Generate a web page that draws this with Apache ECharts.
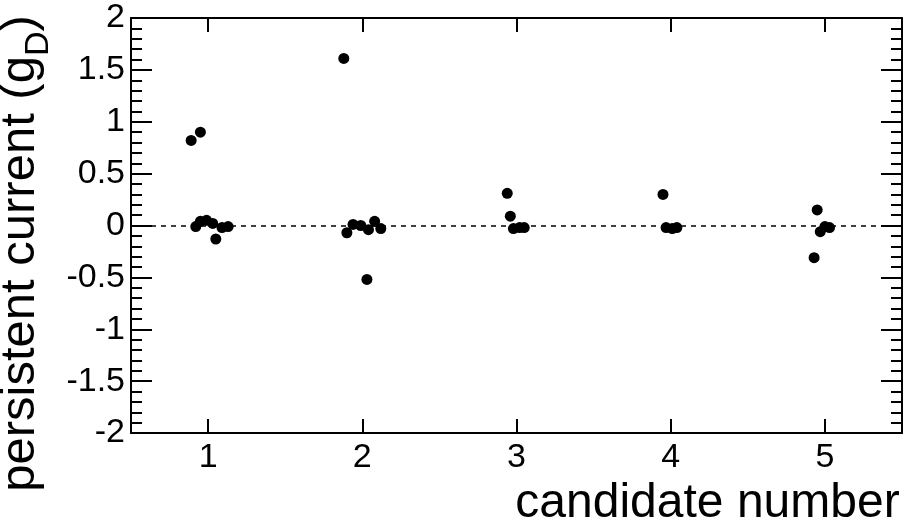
<!DOCTYPE html>
<html>
<head>
<meta charset="utf-8">
<script src="https://cdn.jsdelivr.net/npm/echarts@6/dist/echarts.min.js"></script>
<style>
html,body{margin:0;padding:0;background:#fff;}
#chart{width:909px;height:525px;}
</style>
</head>
<body>
<div id="chart"></div>
<script>
// Data
const candidateX = [
  0.89, 0.95, 0.92, 0.95, 0.99, 1.03, 1.05, 1.09, 1.13,
  1.88, 1.90, 1.94, 1.99, 2.03, 2.04, 2.08, 2.12,
  2.94, 2.96, 2.98, 3.02, 3.05,
  3.95, 3.97, 4.01, 4.04,
  4.93, 4.95, 4.97, 5.00, 5.03
];
const persistentCurrent = [
  0.82, 0.90, -0.01, 0.04, 0.05, 0.02, -0.13, -0.02, -0.01,
  1.61, -0.07, 0.01, 0.00, -0.52, -0.04, 0.04, -0.03,
  0.31, 0.09, -0.03, -0.02, -0.02,
  0.30, -0.02, -0.03, -0.02,
  -0.31, 0.15, -0.06, -0.01, -0.02
];
const xRange = [0.5, 5.5];
const yRange = [-2, 2];
const yStep = 0.5;
const xTitle = 'candidate number';
const yTitleMain = 'persistent current (g';
const yTitleSub = 'D';

const points = candidateX.map((x, i) => [x, persistentCurrent[i]]);

const FONT = 'Liberation Sans';
const chart = echarts.init(document.getElementById('chart'), null, {renderer: 'canvas'});

const axisLineStyle = {color: '#000', width: 2};

chart.setOption({
  animation: false,
  backgroundColor: '#fff',
  grid: {left: 131, right: 7, top: 18, bottom: 92, containLabel: false, outerBoundsMode: 'none'},
  xAxis: [{
    type: 'value', min: xRange[0], max: xRange[1], splitNumber: 5,
    position: 'bottom',
    axisLine: {show: true, onZero: false, lineStyle: axisLineStyle},
    axisTick: {show: true, inside: true, length: 14, lineStyle: {color: '#000', width: 2}},
    splitLine: {show: false},
    axisLabel: {
      color: '#000', fontFamily: FONT, fontSize: 34, margin: 8,
      showMinLabel: false, showMaxLabel: false,
      formatter: v => (Math.abs(v - Math.round(v)) < 1e-9 ? String(Math.round(v)) : '')
    },
    name: xTitle, nameLocation: 'middle', nameGap: 38,
    nameTextStyle: {color: '#000', fontFamily: FONT, fontSize: 48, verticalAlign: 'top', padding: [0, 0, 0, 382]}
  }, {
    type: 'value', min: xRange[0], max: xRange[1], splitNumber: 5,
    position: 'top',
    axisLine: {show: true, onZero: false, lineStyle: axisLineStyle},
    axisTick: {show: true, inside: true, length: 14, lineStyle: {color: '#000', width: 2}},
    splitLine: {show: false},
    axisLabel: {show: false}
  }],
  yAxis: [{
    type: 'value', min: yRange[0], max: yRange[1], interval: yStep,
    position: 'left',
    axisLine: {show: true, onZero: false, lineStyle: axisLineStyle},
    axisTick: {show: true, inside: true, length: 21, lineStyle: {color: '#000', width: 2}},
    minorTick: {show: true, splitNumber: 5, length: 11, lineStyle: {color: '#000', width: 2}},
    splitLine: {show: false},
    axisLabel: {color: '#000', fontFamily: FONT, fontSize: 34, margin: 6},
    name: yTitleMain + '{sub|' + yTitleSub + '})',
    nameLocation: 'middle', nameRotate: 90, nameGap: 50,
    nameTextStyle: {
      color: '#000', fontFamily: FONT, fontSize: 49, padding: [0, 56, 0, 0],
      rich: {sub: {fontFamily: FONT, fontSize: 34, color: '#000', padding: [36, 0, 0, 0]}}
    }
  }, {
    type: 'value', min: yRange[0], max: yRange[1], interval: yStep,
    position: 'right',
    axisLine: {show: true, onZero: false, lineStyle: axisLineStyle},
    axisTick: {show: true, inside: true, length: 21, lineStyle: {color: '#000', width: 2}},
    minorTick: {show: true, splitNumber: 5, length: 11, lineStyle: {color: '#000', width: 2}},
    splitLine: {show: false},
    axisLabel: {show: false}
  }],
  series: [{
    type: 'scatter',
    xAxisIndex: 0, yAxisIndex: 0,
    data: points,
    symbol: 'circle', symbolSize: 11,
    itemStyle: {color: '#000', opacity: 1},
    markLine: {
      silent: true, symbol: 'none', label: {show: false},
      lineStyle: {color: '#000', width: 1.5, type: [5, 5], opacity: 1},
      data: [{yAxis: 0}]
    },
    z: 3
  }]
});
</script>
</body>
</html>
